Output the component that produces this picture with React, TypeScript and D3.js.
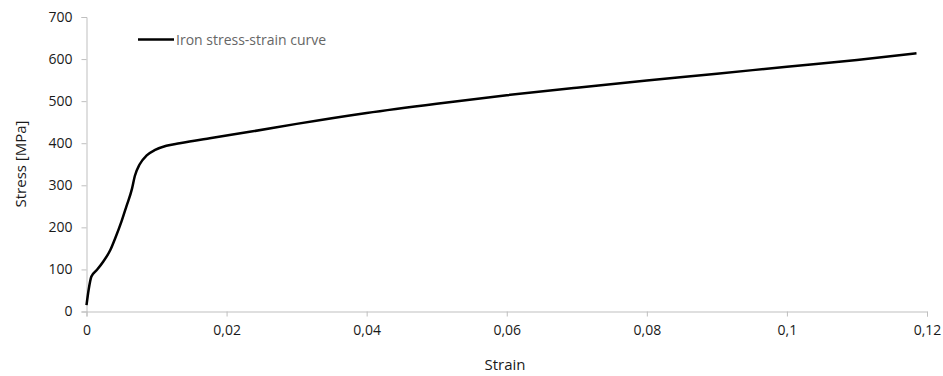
import React, { useEffect, useRef } from "react";
import * as d3 from "d3";

// values
const strain = [0, 0.0003, 0.0007, 0.0015, 0.0024, 0.0034, 0.0041, 0.005, 0.0057, 0.0065, 0.0069, 0.0076, 0.0086, 0.0098, 0.0114, 0.0133, 0.0176, 0.0233, 0.03, 0.04, 0.05, 0.06, 0.07, 0.08, 0.09, 0.1, 0.11, 0.1185];
const stress = [15, 51, 83, 99, 119, 146, 174, 214, 250, 292, 322, 350, 371, 384, 394, 400, 412, 427, 446, 472, 494, 514, 532, 549, 565, 582, 598, 614];
const xTicks = [0, 0.02, 0.04, 0.06, 0.08, 0.1, 0.12];
const yTicks = [0, 100, 200, 300, 400, 500, 600, 700];
const seriesName = "Iron stress-strain curve";

const width = 943;
const height = 376;
const margin = { top: 17, right: 16, bottom: 64.5, left: 86.5 };
const font = "'Open Sans', sans-serif";

export default function App() {
    const ref = useRef<SVGSVGElement>(null);

    useEffect(() => {
        const svg = d3.select(ref.current);
        svg.selectAll("*").remove();

        const x = d3
            .scaleLinear()
            .domain([0, 0.12])
            .range([margin.left, width - margin.right]);
        const y = d3
            .scaleLinear()
            .domain([0, 700])
            .range([height - margin.bottom, margin.top]);

        const fmt = (d: number) => String(d).replace(".", ",");

        // y axis
        const yAxis = svg
            .append("g")
            .attr("transform", `translate(${margin.left},0)`)
            .call(d3.axisLeft(y).tickValues(yTicks).tickSize(5).tickPadding(9));
        yAxis.select(".domain").attr("stroke", "#bfbfbf");
        yAxis.selectAll("line").attr("stroke", "#bfbfbf");
        yAxis
            .selectAll("text")
            .attr("font-family", font)
            .attr("font-size", 14)
            .attr("fill", "#1a1a1a");

        // x axis
        const xAxis = svg
            .append("g")
            .attr("transform", `translate(0,${height - margin.bottom})`)
            .call(
                d3.axisBottom(x).tickValues(xTicks).tickFormat((d) => fmt(+d)).tickSize(5).tickPadding(9)
            );
        xAxis.select(".domain").attr("stroke", "#bfbfbf");
        xAxis.selectAll("line").attr("stroke", "#bfbfbf");
        xAxis
            .selectAll("text")
            .attr("font-family", font)
            .attr("font-size", 14)
            .attr("fill", "#1a1a1a");

        // curve
        const pts = strain.map((s, i) => [s, stress[i]] as [number, number]);
        const line = d3
            .line<[number, number]>()
            .x((d) => x(d[0]))
            .y((d) => y(d[1]))
            .curve(d3.curveMonotoneX);
        svg
            .append("path")
            .datum(pts)
            .attr("d", line)
            .attr("fill", "none")
            .attr("stroke", "#000")
            .attr("stroke-width", 2.5)
            .attr("stroke-linejoin", "round");

        // axis titles
        svg
            .append("text")
            .attr("transform", `translate(26,164) rotate(-90)`)
            .attr("text-anchor", "middle")
            .attr("font-family", font)
            .attr("font-size", 15)
            .attr("fill", "#1a1a1a")
            .text("Stress [MPa]");
        svg
            .append("text")
            .attr("x", 505)
            .attr("y", 370)
            .attr("text-anchor", "middle")
            .attr("font-family", font)
            .attr("font-size", 15)
            .attr("fill", "#1a1a1a")
            .text("Strain");

        // legend
        svg
            .append("line")
            .attr("x1", 138)
            .attr("x2", 174)
            .attr("y1", 39.5)
            .attr("y2", 39.5)
            .attr("stroke", "#000")
            .attr("stroke-width", 2.5);
        svg
            .append("text")
            .attr("x", 176)
            .attr("y", 44.5)
            .attr("font-family", font)
            .attr("font-size", 14)
            .attr("fill", "#666")
            .text(seriesName);
    }, []);

    return (
        <svg
            ref={ref}
            width={width}
            height={height}
            style={{ position: "absolute", left: 0, top: 0, background: "#fff" }}
        ></svg>
    );
}
